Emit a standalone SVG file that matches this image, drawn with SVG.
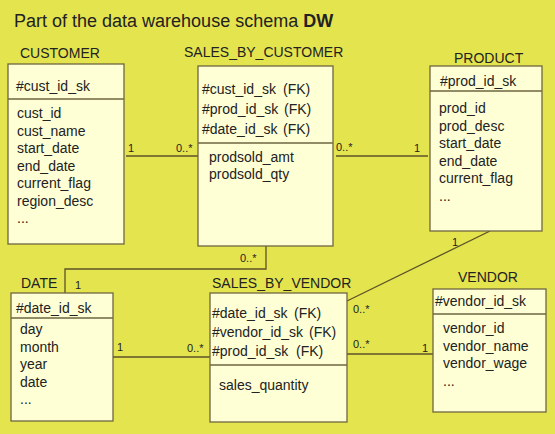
<svg xmlns="http://www.w3.org/2000/svg" width="555" height="434" viewBox="0 0 555 434">
<style>
text{font-family:"Liberation Sans",Arial,sans-serif;fill:#222;}
.t{font-size:14px;}
.m{font-size:11px;}
.box{fill:#FFFFD6;stroke:#6e6640;stroke-width:1.3;}
.div{stroke:#6e6640;stroke-width:1.3;}
.c{fill:none;stroke:#5c5228;stroke-width:1.3;}
</style>
<rect x="0" y="0" width="555" height="434" fill="#E4E44F"/>
<text x="14" y="27" font-size="18">Part of the data warehouse schema <tspan font-weight="bold">DW</tspan></text>

<g id="connectors">
<line class="c" x1="126" y1="156" x2="198" y2="156"/>
<line class="c" x1="336" y1="156" x2="428" y2="156"/>
<polyline class="c" points="65,293 65,269 266,269 266,246"/>
<line class="c" x1="490" y1="231" x2="347" y2="301"/>
<line class="c" x1="113" y1="357" x2="210" y2="357"/>
<line class="c" x1="347" y1="354" x2="434" y2="354"/>
<text class="m" x="128" y="152">1</text>
<text class="m" x="176" y="152">0..*</text>
<text class="m" x="336" y="151">0..*</text>
<text class="m" x="414" y="152">1</text>
<text class="m" x="240" y="262">0..*</text>
<text class="m" x="75" y="289">1</text>
<text class="m" x="452" y="246">1</text>
<text class="m" x="117" y="351">1</text>
<text class="m" x="187" y="352">0..*</text>
<text class="m" x="353" y="313">0..*</text>
<text class="m" x="353" y="348">0..*</text>
<text class="m" x="422" y="352">1</text>
</g>

<g id="customer">
<text class="t" x="20" y="58">CUSTOMER</text>
<rect class="box" x="8" y="64" width="116" height="180"/>
<line class="div" x1="8" y1="99" x2="124" y2="99"/>
<text class="t" x="16" y="91">#cust_id_sk</text>
<text class="t" x="17" y="118">cust_id</text>
<text class="t" x="17" y="135.5">cust_name</text>
<text class="t" x="17" y="153">start_date</text>
<text class="t" x="17" y="170.5">end_date</text>
<text class="t" x="17" y="188">current_flag</text>
<text class="t" x="17" y="205.5">region_desc</text>
<text class="t" x="17" y="223">...</text>
</g>

<g id="sales_by_customer">
<text class="t" x="184" y="57">SALES_BY_CUSTOMER</text>
<rect class="box" x="198" y="66" width="135" height="180"/>
<line class="div" x1="198" y1="143" x2="333" y2="143"/>
<text class="t" x="202" y="94">#cust_id_sk<tspan x="283">(FK)</tspan></text>
<text class="t" x="202" y="114">#prod_id_sk<tspan x="284">(FK)</tspan></text>
<text class="t" x="202" y="134">#date_id_sk<tspan x="283">(FK)</tspan></text>
<text class="t" x="209" y="162">prodsold_amt</text>
<text class="t" x="209" y="179">prodsold_qty</text>
</g>

<g id="product">
<text class="t" x="454" y="63">PRODUCT</text>
<rect class="box" x="430" y="66" width="112" height="165"/>
<line class="div" x1="430" y1="91" x2="542" y2="91"/>
<text class="t" x="440" y="86">#prod_id_sk</text>
<text class="t" x="439" y="113">prod_id</text>
<text class="t" x="439" y="130.5">prod_desc</text>
<text class="t" x="439" y="148">start_date</text>
<text class="t" x="439" y="165.5">end_date</text>
<text class="t" x="439" y="183">current_flag</text>
<text class="t" x="439" y="200.5">...</text>
</g>

<g id="date">
<text class="t" x="21" y="288">DATE</text>
<rect class="box" x="11" y="293" width="102" height="128"/>
<line class="div" x1="11" y1="318" x2="113" y2="318"/>
<text class="t" x="16" y="313">#date_id_sk</text>
<text class="t" x="20" y="334">day</text>
<text class="t" x="20" y="351.5">month</text>
<text class="t" x="20" y="369">year</text>
<text class="t" x="20" y="386.5">date</text>
<text class="t" x="20" y="404">...</text>
</g>

<g id="sales_by_vendor">
<text class="t" x="212" y="288">SALES_BY_VENDOR</text>
<rect class="box" x="210" y="293" width="137" height="129"/>
<line class="div" x1="210" y1="365" x2="347" y2="365"/>
<text class="t" x="212" y="318">#date_id_sk<tspan x="294">(FK)</tspan></text>
<text class="t" x="212" y="337">#vendor_id_sk<tspan x="309">(FK)</tspan></text>
<text class="t" x="212" y="356">#prod_id_sk<tspan x="296">(FK)</tspan></text>
<text class="t" x="219" y="390">sales_quantity</text>
</g>

<g id="vendor">
<text class="t" x="458" y="282">VENDOR</text>
<rect class="box" x="433" y="289" width="113" height="123"/>
<line class="div" x1="433" y1="314" x2="546" y2="314"/>
<text class="t" x="435" y="306">#vendor_id_sk</text>
<text class="t" x="443" y="333">vendor_id</text>
<text class="t" x="443" y="350.5">vendor_name</text>
<text class="t" x="443" y="368">vendor_wage</text>
<text class="t" x="443" y="385.5">...</text>
</g>
</svg>
